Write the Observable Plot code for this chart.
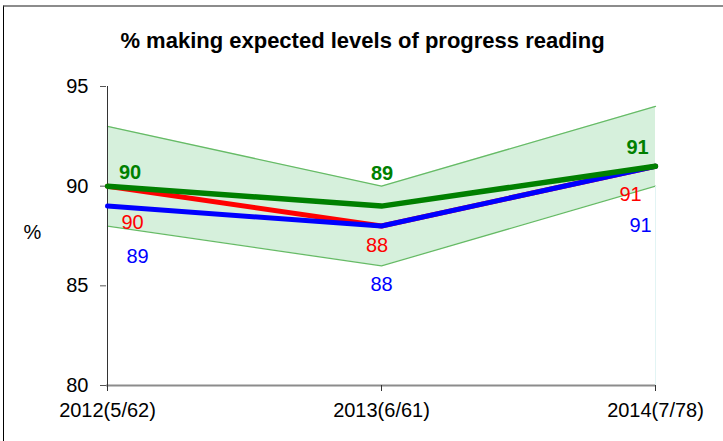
<!DOCTYPE html>
<html>
<head>
<meta charset="utf-8">
<script src="https://cdn.jsdelivr.net/npm/d3@7"></script>
<script src="https://cdn.jsdelivr.net/npm/@observablehq/plot@0.6"></script>
<style>
  html, body { margin: 0; padding: 0; background: #fff; }
  #wrap { position: relative; width: 723px; height: 441px; overflow: hidden; }
  #wrap svg { position: absolute; left: 0; top: 0; }
  #border { position: absolute; left: 3px; top: 5px; right: -10px; bottom: -10px;
            border-left: 1px solid #000; border-top: 2px solid #8c8c8c; pointer-events: none; }
</style>
</head>
<body>
<div id="wrap"></div>
<script>
const categories = ["2012(5/62)", "2013(6/61)", "2014(7/78)"];
const greenValues = [90, 89, 91];
const redValues = [90, 88, 91];
const blueValues = [89, 88, 91];
const bandUpper = [93, 90, 94];
const bandLower = [88, 86, 90];
const yTicks = [80, 85, 90, 95];
const title = "% making expected levels of progress reading";
const yLabel = "%";

const FONT = "'Liberation Sans', Arial, Helvetica, sans-serif";

const bandRows = categories.map((c, i) => ({cat: c, hi: bandUpper[i], lo: bandLower[i]}));
const series = [
  {name: "red", color: "#ff0000", values: redValues, bold: false,
   offsets: [[25, 36], [-4.5, 19.5], [-25, 28]]},
  {name: "blue", color: "#0000ff", values: blueValues, bold: false,
   offsets: [[30, 50], [0, 58.5], [-15, 59]]},
  {name: "green", color: "#008000", values: greenValues, bold: true,
   offsets: [[22.5, -14], [0.5, -33], [-18, -19]]}
];

const marks = [
  Plot.areaY(bandRows, {x: "cat", y1: "lo", y2: "hi", fill: "#d6f0dc", curve: "linear"}),
  Plot.line(bandRows, {x: "cat", y: "hi", stroke: "#66bb66", strokeWidth: 1.3}),
  Plot.line(bandRows, {x: "cat", y: "lo", stroke: "#66bb66", strokeWidth: 1.3}),
  Plot.ruleX([categories[2]], {y1: yTicks[0], y2: bandLower[2], stroke: "#e2f4f4", strokeWidth: 1}),
  Plot.ruleY([yTicks[0]], {stroke: "#8c8c8c", strokeWidth: 2}),
  Plot.ruleX([categories[0]], {y1: yTicks[0], y2: yTicks[yTicks.length - 1], stroke: "#333", strokeWidth: 1}),
  Plot.axisY({ticks: yTicks, tickSize: 6, tickPadding: 12, fontSize: 20, stroke: "#555", label: null}),
  Plot.axisX({tickSize: 6, tickPadding: 11, fontSize: 20, stroke: "#333", label: null})
];

for (const s of series) {
  const rows = categories.map((c, i) => ({cat: c, v: s.values[i]}));
  marks.push(Plot.line(rows, {x: "cat", y: "v", stroke: s.color, strokeWidth: s.bold ? 5.5 : 5,
    strokeLinecap: "round", strokeLinejoin: "round"}));
}
for (const s of series) {
  categories.forEach((c, i) => {
    marks.push(Plot.text([{cat: c, v: s.values[i]}], {
      x: "cat", y: "v", text: d => String(d.v), fill: s.color,
      fontSize: 20, fontWeight: s.bold ? "bold" : "normal",
      dx: s.offsets[i][0], dy: s.offsets[i][1], textAnchor: "middle", lineAnchor: "middle"
    }));
  });
}
marks.push(Plot.text([title], {frameAnchor: "top", dx: -18.5, dy: -46, fontSize: 22,
  fontWeight: "bold", fill: "#000", textAnchor: "middle", lineAnchor: "middle"}));
marks.push(Plot.text([yLabel], {frameAnchor: "left", dx: -74, dy: -3.5, fontSize: 20,
  fill: "#000", textAnchor: "middle", lineAnchor: "middle"}));

const chart = Plot.plot({
  width: 723,
  height: 441,
  marginLeft: 106,
  marginRight: 68,
  marginTop: 86,
  marginBottom: 56,
  style: {fontFamily: FONT, background: "transparent", color: "#000", overflow: "visible"},
  x: {type: "point", domain: categories, padding: 0},
  y: {domain: [80, 95]},
  marks
});
const wrap = document.getElementById("wrap");
wrap.appendChild(chart);
const b = document.createElement("div");
b.id = "border";
wrap.appendChild(b);
</script>
</body>
</html>
